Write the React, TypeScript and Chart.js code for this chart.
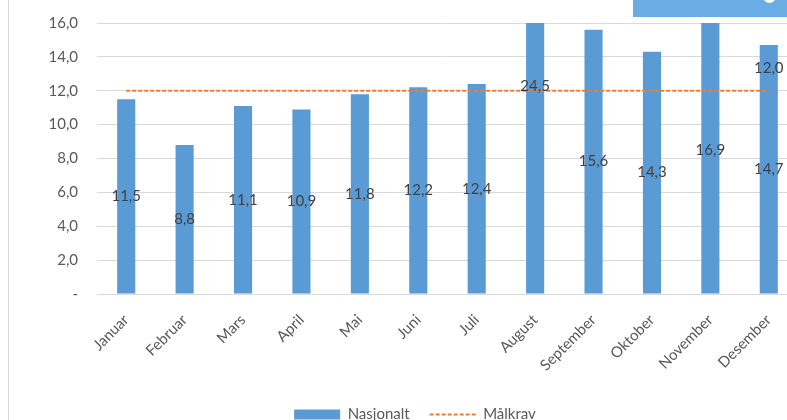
import React, { useEffect, useRef } from "react";
import { Chart, registerables } from "chart.js";

Chart.register(...registerables);

const months = [
  "Januar", "Februar", "Mars", "April", "Mai", "Juni",
  "Juli", "August", "September", "Oktober", "November", "Desember",
];
const nasjonalt = [11.5, 8.8, 11.1, 10.9, 11.8, 12.2, 12.4, 24.5, 15.6, 14.3, 16.9, 14.7];
const maalkrav = [12, 12, 12, 12, 12, 12, 12, 12, 12, 12, 12, 12];
const yMin = 0;
const yMax = 16;
const yStep = 2;

const fmt = (v: number) => v.toFixed(1).replace(".", ",");

const BLUE = "#5B9BD5";
const ORANGE = "#ED7D31";
const TEXT = "#595959";
const FONT = "Lato";

const labelPlugin = {
  id: "valueLabels",
  afterDatasetsDraw(chart: any) {
    const ctx = chart.ctx;
    ctx.save();
    ctx.font = `15px ${FONT}`;
    ctx.fillStyle = "#404040";
    ctx.textAlign = "center";
    ctx.textBaseline = "middle";
    const barMeta = chart.getDatasetMeta(0);
    barMeta.data.forEach((bar: any, i: number) => {
      const p = bar.getProps(["x", "y", "base"], true);
      ctx.fillText(fmt(nasjonalt[i]), p.x, (p.y + p.base) / 2);
    });
    const lineMeta = chart.getDatasetMeta(1);
    const last = lineMeta.data[lineMeta.data.length - 1];
    if (last) {
      ctx.fillText(fmt(maalkrav[maalkrav.length - 1]), last.x, last.y - 23);
    }
    ctx.restore();
  },
};

function ChartView() {
  const ref = useRef<HTMLCanvasElement | null>(null);
  useEffect(() => {
    if (!ref.current) return;
    const chart = new Chart(ref.current, {
      type: "bar",
      data: {
        labels: months,
        datasets: [
          {
            type: "bar",
            label: "Nasjonalt",
            data: nasjonalt,
            backgroundColor: BLUE,
            borderWidth: 0,
            barPercentage: 0.31,
            categoryPercentage: 1,
            order: 1,
          } as any,
          {
            type: "line",
            label: "Målkrav",
            data: maalkrav,
            borderColor: ORANGE,
            backgroundColor: ORANGE,
            borderWidth: 2,
            borderDash: [4, 2],
            pointRadius: 0,
            fill: false,
            order: 0,
          } as any,
        ],
      },
      options: {
        animation: false,
        responsive: false,
        layout: { padding: { top: 23, left: 32, right: 0, bottom: 0 } },
        plugins: {
          tooltip: { enabled: false },
          legend: {
            position: "bottom",
            labels: {
              usePointStyle: true,
              pointStyleWidth: 46,
              boxHeight: 10,
              padding: 20,
              color: TEXT,
              font: { family: FONT, size: 15 },
              sort: (a: any, b: any) => a.datasetIndex - b.datasetIndex,
              generateLabels: (c: any) => {
                const items = (Chart.defaults.plugins.legend.labels as any).generateLabels(c);
                items.forEach((it: any) => {
                  if (it.datasetIndex === 0) {
                    it.pointStyle = "rect";
                    it.lineWidth = 0;
                    it.fillStyle = BLUE;
                  } else {
                    it.pointStyle = "line";
                    it.lineDash = [4, 2];
                    it.strokeStyle = ORANGE;
                    it.lineWidth = 2;
                  }
                });
                return items;
              },
            },
          },
        },
        scales: {
          x: {
            grid: { display: false },
            border: { display: false },
            ticks: {
              color: TEXT,
              font: { family: FONT, size: 15 },
              minRotation: 45,
              maxRotation: 45,
              padding: 9,
              autoSkip: false,
            },
            afterFit: (s: any) => {
              s.height = 93;
              s.paddingLeft = 0;
              s.paddingRight = 0;
            },
          },
          y: {
            min: yMin,
            max: yMax,
            grid: { color: "#d9d9d9", lineWidth: 1, drawTicks: false },
            border: { display: false },
            ticks: {
              stepSize: yStep,
              padding: 19,
              color: TEXT,
              font: { family: FONT, size: 15 },
              callback: (v: any) => (Number(v) === 0 ? "-" : fmt(Number(v))),
            },
            afterFit: (s: any) => {
              s.width = 65;
              s.paddingTop = 0;
              s.paddingBottom = 0;
            },
          },
        },
      } as any,
      plugins: [labelPlugin],
    });
    return () => chart.destroy();
  }, []);
  return (
    <canvas
      ref={ref}
      width={798}
      height={432}
      style={{ position: "absolute", left: 0, top: 0, display: "block" }}
    />
  );
}

export default function App() {
  return (
    <div
      style={{
        position: "fixed",
        left: 0,
        top: 0,
        width: 787,
        height: 420,
        overflow: "hidden",
        background: "#ffffff",
      }}
    >
      <ChartView />
      <div
        style={{
          position: "absolute",
          left: 8,
          top: 0,
          width: 1,
          height: 420,
          background: "#d4d4d4",
        }}
      />
      <div
        style={{
          position: "absolute",
          left: 633,
          top: 0,
          width: 160,
          height: 17,
          background: "#6AACE4",
        }}
      />
      <div
        style={{
          position: "absolute",
          left: 763,
          top: -10,
          width: 13,
          height: 13,
          borderRadius: "50%",
          background: "#ffffff",
        }}
      />
    </div>
  );
}
